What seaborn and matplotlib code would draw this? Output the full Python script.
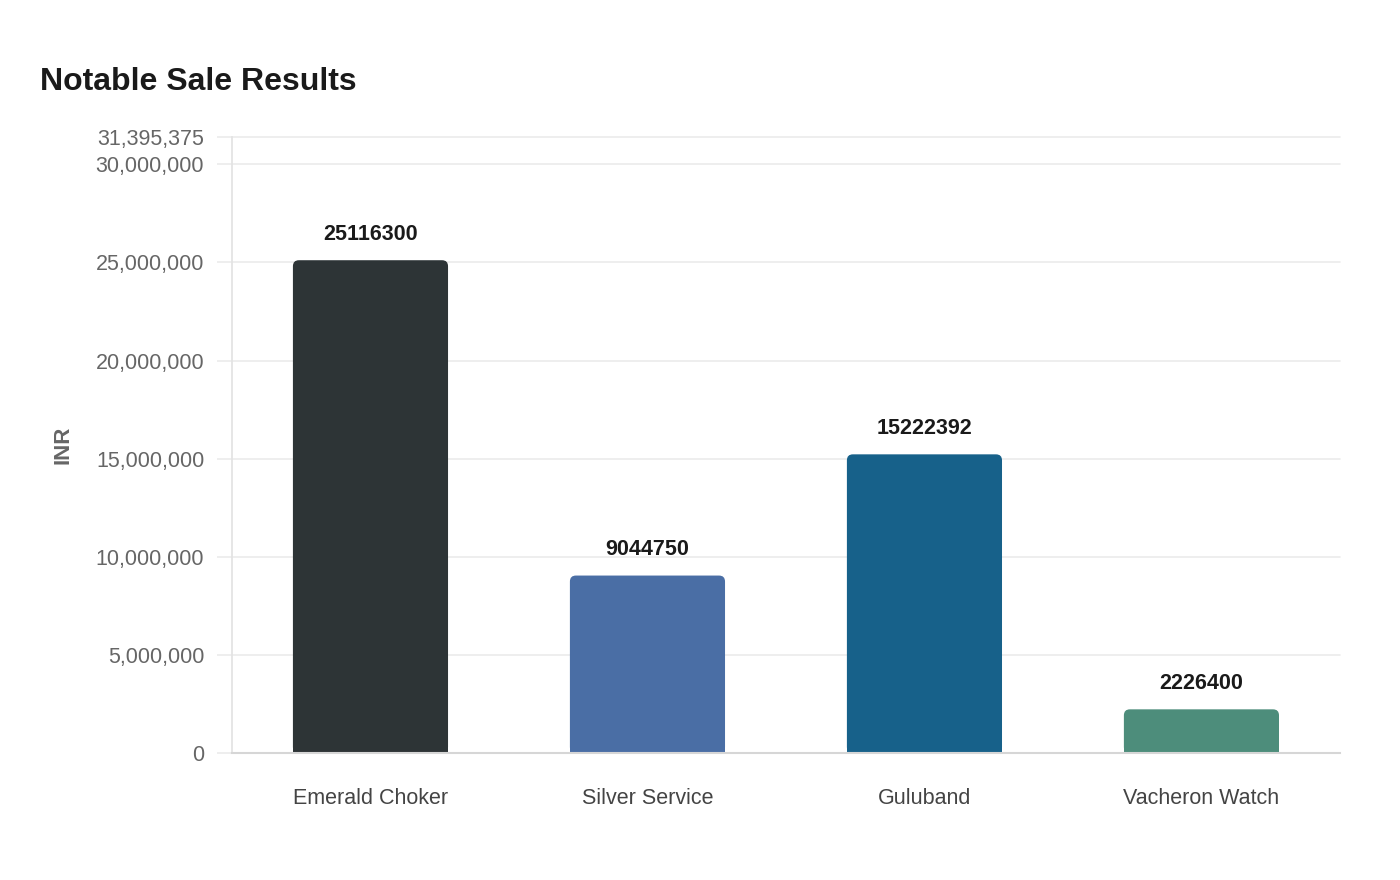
import numpy as np
import pandas as pd
import seaborn as sns
import matplotlib
matplotlib.use('Agg')
import matplotlib.pyplot as plt
from matplotlib.patches import FancyBboxPatch, Rectangle

# 데이터
items = ['Emerald Choker', 'Silver Service', 'Guluband', 'Vacheron Watch']
prices = [25116300, 9044750, 15222392, 2226400]
colors = ['#2d3436', '#4a6ea5', '#17618a', '#4d8d7b']
ytop = 31395375
yticks = [0, 5000000, 10000000, 15000000, 20000000, 25000000, 30000000, ytop]

df = pd.DataFrame({'item': items, 'price': prices})

sns.set_theme(style='white')
plt.rcParams['font.family'] = ['Liberation Sans', 'DejaVu Sans']

fig = plt.figure(figsize=(14, 8.8), dpi=100)
ax = fig.add_axes([0.1657, 0.1443, 0.7914, 0.7])

sns.barplot(data=df, x='item', y='price', hue='item', palette=colors,
            width=0.56, legend=False, ax=ax, saturation=1)

ax.set_xlim(-0.5, 3.5)
ax.set_ylim(0, ytop)

# 막대 위쪽 모서리를 둥글게
px_x = 4 / (0.7914 * 1400)
px_y = ytop / (0.7 * 880)
r = 6 * px_x
for p in list(ax.patches):
    x0, w, h = p.get_x(), p.get_width(), p.get_height()
    c = p.get_facecolor()
    p.set_visible(False)
    ax.add_patch(FancyBboxPatch((x0, 0), w, h, boxstyle=f'round,pad=0,rounding_size={r}',
                                mutation_aspect=px_y / px_x, fc=c, ec='none', zorder=2))
    ax.add_patch(Rectangle((x0, 0), w, h / 2, fc=c, ec='none', zorder=2))

for i, v in enumerate(prices):
    ax.annotate(str(v), (i, v), xytext=(0, 11), textcoords='offset points',
                ha='center', va='bottom', fontsize=15.5, fontweight='bold', color='#1a1a1a')

ax.set_yticks(yticks)
ax.set_yticklabels(['{:,}'.format(t) for t in yticks])
ax.grid(axis='y', color='#ebebeb', linewidth=1.2, zorder=0)
for gl in ax.get_ygridlines():
    gl.set_clip_on(False)
ax.set_axisbelow(True)
ax.tick_params(axis='y', length=11, color='#ebebeb', width=1.2, labelsize=15.5,
               labelcolor='#666666', pad=9, left=True)
ax.tick_params(axis='x', length=0, labelsize=15.5, labelcolor='#444444', pad=25)

for s in ['top', 'right']:
    ax.spines[s].set_visible(False)
ax.spines['left'].set_color('#e3e3e3')
ax.spines['bottom'].set_color('#d6d6d6')
ax.spines['bottom'].set_linewidth(1.5)

ax.set_xlabel('')
ax.set_ylabel('INR', fontsize=16, fontweight='bold', color='#666666', labelpad=16)

fig.text(0.0286, 0.907, 'Notable Sale Results', fontsize=23, fontweight='bold',
         color='#1a1a1a', ha='left', va='center')

plt.savefig('out.png', dpi=100)
